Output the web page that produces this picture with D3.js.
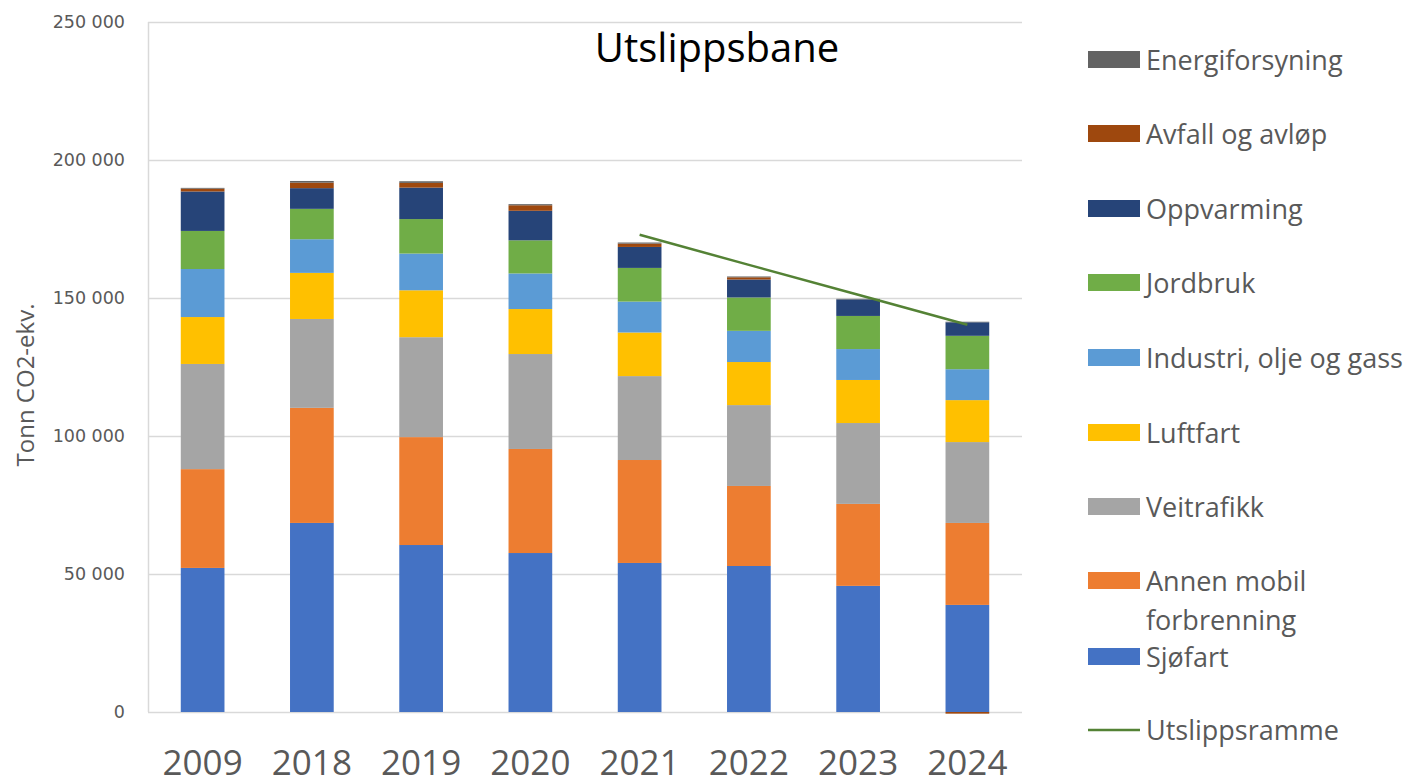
<!DOCTYPE html>
<html>
<head>
<meta charset="utf-8">
<script src="https://cdn.jsdelivr.net/npm/d3@7"></script>
<style>
  html, body { margin: 0; padding: 0; background: #fff; }
  svg { display: block; }
</style>
</head>
<body>
<script>
// data (tonn CO2-ekv.)
var years = ["2009", "2018", "2019", "2020", "2021", "2022", "2023", "2024"];

var sjofart      = [52200, 68500, 60500, 57600, 54000, 52900, 45700, 38800];
var annenMobil   = [35800, 41700, 39100, 37700, 37300, 29000, 29700, 29700];
var veitrafikk   = [38100, 32200, 36200, 34400, 30400, 29300, 29300, 29300];
var luftfart     = [17000, 16700, 17000, 16300, 15800, 15600, 15600, 15200];
var industri     = [17400, 12200, 13300, 12900, 11200, 11300, 11200, 11200];
var jordbruk     = [13800, 11000, 12500, 12000, 12200, 12100, 12000, 12100];
var oppvarming   = [14300, 7500, 11400, 10700, 7600, 6500, 6000, 4900];
var avfall       = [1000, 2000, 1700, 2000, 1200, 800, 0, -600];
var energi       = [300, 600, 600, 400, 400, 300, 200, 200];

var utslippsramme = [null, null, null, null, 172900, 162000, 151200, 140300];

var seriesNames = ["Sjøfart", "Annen mobil forbrenning", "Veitrafikk", "Luftfart",
  "Industri, olje og gass", "Jordbruk", "Oppvarming", "Avfall og avløp", "Energiforsyning"];
var seriesValues = [sjofart, annenMobil, veitrafikk, luftfart, industri, jordbruk, oppvarming, avfall, energi];
var colors = ["#4472C4", "#ED7D31", "#A5A5A5", "#FFC000", "#5B9BD5", "#70AD47", "#264478", "#9E480E", "#636363"];

var yTicks = [0, 50000, 100000, 150000, 200000, 250000];

var W = 1414, H = 784;
var margin = { top: 22, right: 392, bottom: 72, left: 148 };
var width = W - margin.left - margin.right,
  height = H - margin.top - margin.bottom;

var table = years.map(function (y, i) {
  var row = { year: y };
  seriesNames.forEach(function (s, j) { row[s] = seriesValues[j][i]; });
  return row;
});

var stack = d3.stack()
  .keys(seriesNames)
  .offset(d3.stackOffsetDiverging);
var layers = stack(table);

var x = d3.scaleBand()
  .domain(years)
  .range([0, width])
  .paddingInner(0.6)
  .paddingOuter(0.3);

var y = d3.scaleLinear()
  .domain([0, 250000])
  .range([height, 0]);

var nb = d3.formatLocale({ decimal: ",", thousands: " ", grouping: [3], currency: ["", ""] });
var fmt = nb.format(",");

var svg = d3.select("body").append("svg")
  .attr("width", W)
  .attr("height", H);

var g = svg.append("g")
  .attr("transform", "translate(" + margin.left + "," + margin.top + ")");

// gridlines
g.append("g")
  .selectAll("line")
  .data(yTicks)
  .enter().append("line")
  .attr("x1", 0)
  .attr("x2", width)
  .attr("y1", function (d) { return Math.round(y(d)) + 0.5; })
  .attr("y2", function (d) { return Math.round(y(d)) + 0.5; })
  .attr("stroke", "#d9d9d9")
  .attr("stroke-width", 1.5);

// left axis line
g.append("line")
  .attr("x1", 0.5).attr("x2", 0.5)
  .attr("y1", 0).attr("y2", height)
  .attr("stroke", "#d9d9d9")
  .attr("stroke-width", 1.5);

// y axis
var yAxis = d3.axisLeft(y)
  .tickValues(yTicks)
  .tickFormat(fmt)
  .tickSize(0)
  .tickPadding(23);

g.append("g")
  .attr("class", "y axis")
  .call(yAxis)
  .call(function (a) { a.select(".domain").remove(); })
  .selectAll("text")
  .attr("font-family", "DejaVu Sans")
  .attr("font-size", 17.5)
  .attr("fill", "#595959");

// x axis labels
var xAxis = d3.axisBottom(x).tickSize(0).tickPadding(0);
g.append("g")
  .attr("class", "x axis")
  .attr("transform", "translate(0," + height + ")")
  .call(xAxis)
  .call(function (a) { a.select(".domain").remove(); })
  .selectAll("text")
  .attr("y", 63)
  .attr("dy", 0)
  .attr("font-family", "Open Sans")
  .attr("font-size", 35)
  .attr("fill", "#595959");

// bars
g.selectAll(".layer")
  .data(layers)
  .enter().append("g")
  .attr("class", "layer")
  .attr("fill", function (d, i) { return colors[i]; })
  .selectAll("rect")
  .data(function (d) { return d; })
  .enter().append("rect")
  .attr("x", function (d) { return x(d.data.year); })
  .attr("width", x.bandwidth())
  .attr("y", function (d) { return y(Math.max(d[0], d[1])); })
  .attr("height", function (d) { return Math.abs(y(d[0]) - y(d[1])); });

// Utslippsramme line
var line = d3.line()
  .defined(function (d) { return d != null; })
  .x(function (d, i) { return x(years[i]) + x.bandwidth() / 2; })
  .y(function (d) { return y(d); });

g.append("path")
  .datum(utslippsramme)
  .attr("fill", "none")
  .attr("stroke", "#548235")
  .attr("stroke-width", 2.5)
  .attr("d", line);

// title
svg.append("text")
  .attr("x", 717)
  .attr("y", 62)
  .attr("text-anchor", "middle")
  .attr("font-family", "Open Sans")
  .attr("font-size", 40)
  .attr("fill", "#000")
  .text("Utslippsbane");

// y axis title
svg.append("text")
  .attr("transform", "translate(34,385) rotate(-90)")
  .attr("text-anchor", "middle")
  .attr("font-family", "Open Sans")
  .attr("font-size", 24)
  .attr("fill", "#595959")
  .text("Tonn CO2-ekv.");

// legend
var legendItems = [
  { name: "Energiforsyning", color: colors[8], yc: 60 },
  { name: "Avfall og avløp", color: colors[7], yc: 134 },
  { name: "Oppvarming", color: colors[6], yc: 209 },
  { name: "Jordbruk", color: colors[5], yc: 283 },
  { name: "Industri, olje og gass", color: colors[4], yc: 358 },
  { name: "Luftfart", color: colors[3], yc: 433 },
  { name: "Veitrafikk", color: colors[2], yc: 507 },
  { name: ["Annen mobil", "forbrenning"], color: colors[1], yc: 581 },
  { name: "Sjøfart", color: colors[0], yc: 657 },
  { name: "Utslippsramme", color: "#548235", yc: 730, line: true }
];

var leg = svg.append("g").attr("class", "legend");
legendItems.forEach(function (d) {
  if (d.line) {
    leg.append("line")
      .attr("x1", 1088).attr("x2", 1140)
      .attr("y1", d.yc).attr("y2", d.yc)
      .attr("stroke", d.color)
      .attr("stroke-width", 2.5);
  } else {
    leg.append("rect")
      .attr("x", 1088).attr("y", d.yc - 9)
      .attr("width", 52).attr("height", 17)
      .attr("fill", d.color);
  }
  var t = leg.append("text")
    .attr("x", 1146)
    .attr("y", d.yc + 10)
    .attr("font-family", "Open Sans")
    .attr("font-size", 27)
    .attr("fill", "#595959");
  var lines = Array.isArray(d.name) ? d.name : [d.name];
  lines.forEach(function (s, k) {
    t.append("tspan").attr("x", 1146).attr("dy", k === 0 ? 0 : 39).text(s);
  });
});
</script>
</body>
</html>
